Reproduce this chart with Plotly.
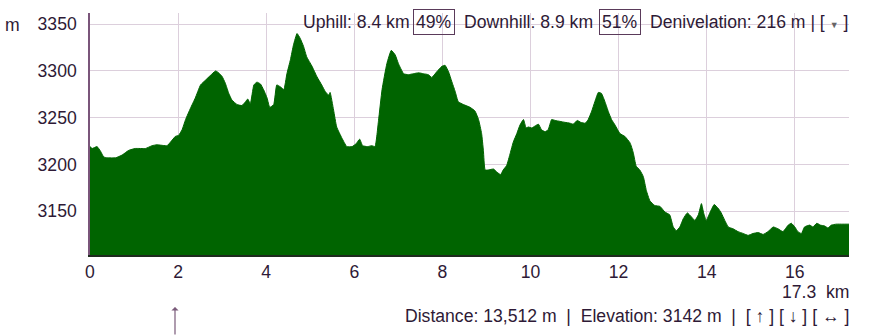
import plotly.graph_objects as go

dist_km = [0.00,0.05,0.16,0.24,0.31,0.39,0.58,0.73,0.88,1.03,1.26,1.41,1.52,1.75,1.83,1.94,2.01,2.09,2.17,2.28,2.39,2.51,2.62,2.73,2.85,2.92,3.00,3.07,3.15,3.22,3.34,3.45,3.53,3.58,3.64,3.72,3.79,3.87,3.94,4.02,4.08,4.17,4.24,4.32,4.40,
           4.47,4.55,4.62,4.70,4.77,4.85,4.92,5.04,5.15,5.26,5.34,5.42,5.45,5.53,5.60,5.72,5.83,5.95,6.04,6.12,6.19,6.30,6.40,6.47,6.55,6.63,6.74,6.84,6.93,7.00,7.12,7.23,7.34,7.46,7.57,7.68,7.76,7.87,7.99,8.06,8.14,8.21,8.29,8.36,8.48,8.63,8.74,
           8.82,8.89,8.93,8.97,9.04,9.16,9.23,9.32,9.38,9.46,9.54,9.61,9.69,9.76,9.84,9.90,9.95,10.03,10.10,10.18,10.25,10.33,10.40,10.48,10.56,10.67,10.78,10.90,10.97,11.06,11.14,11.24,11.31,11.39,11.46,11.54,11.61,11.69,11.77,11.84,11.92,12.03,12.14,
           12.26,12.33,12.40,12.48,12.56,12.63,12.71,12.82,12.94,
           13.05,13.16,13.24,13.31,13.39,13.47,13.56,13.65,13.73,13.81,13.88,13.93,13.99,14.07,14.17,14.26,14.33,14.41,14.49,14.60,14.71,14.83,14.94,15.05,15.17,15.28,15.39,15.51,15.62,15.73,15.85,15.92,16.00,16.07,16.15,16.22,16.34,16.41,16.50,16.58,16.68,16.75,16.83,16.94,17.09,17.23]
elev_m = [3219,3217,3219,3214,3208,3207,3207,3210,3215,3217,3217,3220,3221,3220,3224,3230,3231,3237,3248,3260,3271,3285,3290,3295,3300,3298,3294,3287,3276,3269,3264,3263,3267,3270,3265,3285,3288,3286,3280,3271,3261,3264,3285,3283,3280,
          3297,3312,3328,3340,3335,3326,3315,3305,3294,3285,3278,3274,3277,3258,3240,3228,3219,3219,3222,3227,3220,3219,3220,3219,3247,3280,3308,3322,3317,3308,3297,3296,3297,3298,3297,3296,3293,3299,3305,3306,3299,3289,3278,3267,3264,3261,3257,
          3248,3233,3215,3194,3194,3195,3192,3189,3194,3199,3212,3224,3233,3242,3248,3239,3240,3239,3241,3243,3237,3235,3237,3248,3247,3246,3245,3244,3243,3247,3245,3244,3248,3257,3267,3277,3276,3267,3256,3248,3242,3233,3230,
          3223,3213,3198,3194,3187,3172,3161,3156,3155,
          3149,3146,3133,3129,3133,3142,3148,3144,3140,3146,3158,3148,3140,3148,3157,3153,3148,3140,3133,3131,3128,3126,3124,3126,3127,3125,3128,3133,3131,3128,3135,3137,3133,3128,3126,3133,3135,3133,3137,3135,3134,3132,3135,3136,3136,3136]

x_ticks = [0, 2, 4, 6, 8, 10, 12, 14, 16]
y_ticks = [3150, 3200, 3250, 3300, 3350]

FONT = "Liberation Sans, Arial, sans-serif"
FS = 17.6
TXT = "#2e1a36"
GRID = "#dccfdc"

fig = go.Figure()
fig.add_trace(go.Scatter(x=dist_km, y=elev_m, mode="lines", fill="tozeroy",
                         line=dict(color="#006400", width=1, shape="spline", smoothing=0.4),
                         fillcolor="#006400", hoverinfo="skip"))

fig.update_layout(
    width=874, height=336, paper_bgcolor="white", plot_bgcolor="white",
    margin=dict(l=90, r=25, t=13, b=81), showlegend=False,
    font=dict(family=FONT, size=FS, color=TXT),
    xaxis=dict(range=[0, 17.23], tickvals=x_ticks, ticktext=[str(v) for v in x_ticks],
               showgrid=True, gridcolor=GRID, gridwidth=1, zeroline=False,
               showline=True, linecolor="#1e2a1e", linewidth=1.5, ticks="",
               tickfont=dict(size=FS, color=TXT), fixedrange=True),
    yaxis=dict(range=[3103, 3362], tickvals=y_ticks, ticktext=[str(v) for v in y_ticks],
               showgrid=True, gridcolor=GRID, gridwidth=1, zeroline=False,
               showline=True, linecolor="#7a557a", linewidth=1.5, ticks="",
               ticklabelstandoff=8, tickfont=dict(size=FS, color=TXT), fixedrange=True),
)

def px2x(px):
    return (px - 90) / 759.0

def py2y(py):
    return (255 - py) / 242.0

top_y = py2y(22)
anns = [
    dict(text="m", x=px2x(12), y=py2y(24.5), xanchor="center", yanchor="middle"),
    dict(text="Uphill: 8.4 km", x=px2x(301), y=top_y, xanchor="left", yanchor="middle"),
    dict(text="49%", x=px2x(413), y=top_y, xanchor="left", yanchor="middle",
         bordercolor="#5a3a5a", borderwidth=1, borderpad=2),
    dict(text="Downhill: 8.9 km", x=px2x(462), y=top_y, xanchor="left", yanchor="middle"),
    dict(text="51%", x=px2x(599), y=top_y, xanchor="left", yanchor="middle",
         bordercolor="#5a3a5a", borderwidth=1, borderpad=2),
    dict(text="Denivelation: 216 m | [ <span style='font-size:9px;color:#666'>▼</span> ]", x=px2x(850), y=top_y,
         xanchor="right", yanchor="middle"),
    dict(text="17.3  km", x=px2x(851), y=py2y(292), xanchor="right", yanchor="middle"),
    dict(text="Distance: 13,512 m  |  Elevation: 3142 m  |  [ ↑ ] [ ↓ ] [ ↔ ]", x=px2x(851), y=py2y(316),
         xanchor="right", yanchor="middle"),
]
for a in anns:
    a.update(xref="paper", yref="paper", showarrow=False, font=dict(family=FONT, size=FS, color=TXT))
    fig.add_annotation(**a)

fig.add_annotation(xref="paper", yref="paper", x=px2x(175), y=py2y(307), ax=0, ay=30,
                   text="", showarrow=True, arrowhead=1, arrowsize=1, arrowwidth=1.2,
                   arrowcolor="#7a5a7a")

fig.write_html("out.html")
